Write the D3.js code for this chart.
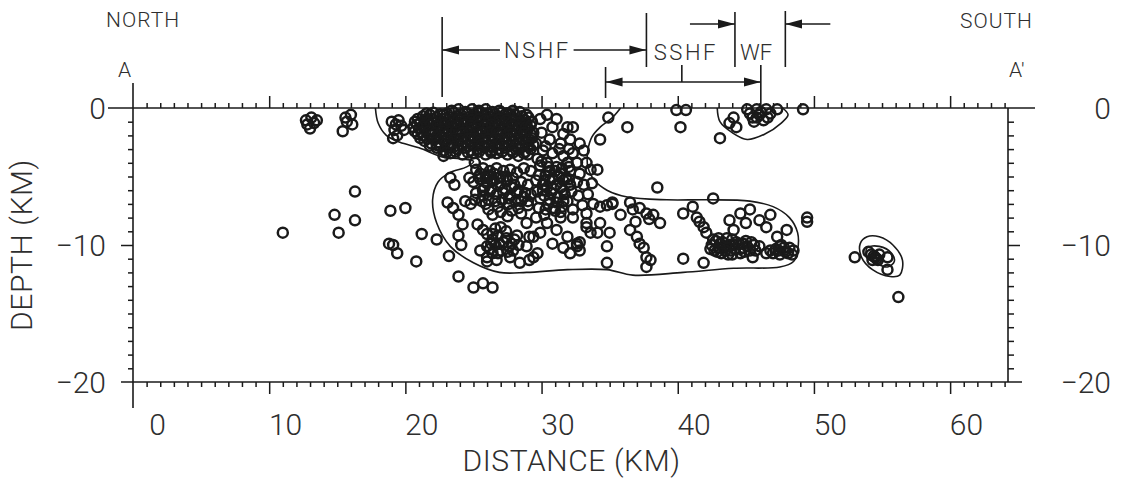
<!DOCTYPE html>
<html>
<head>
<meta charset="utf-8">
<script src="https://cdn.jsdelivr.net/npm/d3@7"></script>
<style>
    body { margin: 0; background: #fff; }
    text { font-family: Roboto, "Liberation Sans", sans-serif; font-weight: 300; fill: #2e2e2e; }
</style>
</head>
<body>
<svg width="1121" height="482"></svg>
<script>
// --------------- //
// DATA //
// --------------- //
// distance along profile (km), depth (km, negative down)
let westShallow = [
    [12.7, -0.9], [13.1, -0.7], [13.5, -0.9], [12.8, -1.2], [13.0, -1.5], [13.3, -1.1],
    [15.6, -0.7], [16.0, -0.5], [15.7, -1.0], [16.1, -1.2], [15.4, -1.7]
]
let bullseye = [
    [19.0, -1.0], [19.3, -1.2], [19.5, -0.9], [19.7, -1.3], [19.2, -1.6], [19.4, -2.0], [19.9, -1.6], [19.1, -2.2]
]
let westDeep = [
    [11.0, -9.1], [14.8, -7.8], [16.3, -8.2], [15.1, -9.1], [16.3, -6.1], [18.9, -7.5], [20.0, -7.3],
    [18.8, -9.9], [19.1, -10.0], [19.4, -10.6], [21.2, -9.2], [22.3, -9.6], [20.8, -11.2], [23.2, -10.8],
    [23.9, -12.3], [25.0, -13.1], [25.7, -12.8], [26.4, -13.1]
]
let nshfShallow = [
    [23.4, -0.2], [23.9, -0.1], [24.4, -0.3], [24.9, -0.1], [25.4, -0.2], [25.9, -0.1], [26.4, -0.3], [26.9, -0.2], [27.4, -0.4], [27.9, -0.2], [28.4, -0.3], [28.9, -0.5],
    [21.3, -0.6], [21.8, -0.5], [22.3, -0.7], [22.8, -0.5], [23.3, -0.7], [23.8, -0.6], [24.3, -0.8], [24.8, -0.6], [25.3, -0.7], [25.8, -0.5], [26.3, -0.7], [26.8, -0.6], [27.3, -0.8], [27.8, -0.7], [28.3, -0.9], [28.8, -0.9], [29.3, -1.0],
    [20.7, -1.0], [21.1, -1.1], [21.6, -0.9], [22.1, -1.1], [22.6, -1.0], [23.1, -1.2], [23.6, -1.0], [24.1, -1.1], [24.6, -1.0], [25.1, -1.2], [25.6, -1.0], [26.1, -1.1], [26.6, -1.0], [27.1, -1.2], [27.6, -1.1], [28.1, -1.3], [28.6, -1.2],
    [20.6, -1.4], [21.0, -1.5], [21.5, -1.4], [22.0, -1.6], [22.5, -1.4], [23.0, -1.5], [23.5, -1.4], [24.0, -1.6], [24.5, -1.5], [25.0, -1.4], [25.5, -1.6], [26.0, -1.5], [26.5, -1.4], [27.0, -1.6], [27.5, -1.5], [28.0, -1.6], [28.5, -1.7], [29.0, -1.5], [29.4, -1.8],
    [20.9, -1.9], [21.3, -2.0], [21.8, -1.9], [22.3, -2.1], [22.8, -1.9], [23.3, -2.0], [23.8, -1.9], [24.3, -2.1], [24.8, -2.0], [25.3, -1.9], [25.8, -2.1], [26.3, -2.0], [26.8, -1.9], [27.3, -2.1], [27.8, -2.0], [28.3, -2.1], [28.8, -2.0], [29.3, -2.2],
    [21.4, -2.4], [21.9, -2.6], [22.4, -2.5], [22.9, -2.4], [23.4, -2.6], [23.9, -2.4], [24.4, -2.5], [24.9, -2.4], [25.4, -2.6], [25.9, -2.5], [26.4, -2.4], [26.9, -2.6], [27.4, -2.5], [27.9, -2.4], [28.4, -2.6], [28.9, -2.5], [29.4, -2.7],
    [22.3, -2.9], [22.8, -3.1], [23.3, -2.9], [23.8, -3.0], [24.3, -2.9], [24.8, -3.1], [25.3, -3.0], [25.8, -2.9], [26.3, -3.1], [26.8, -3.0], [27.3, -2.9], [27.8, -3.1], [28.3, -3.0], [28.8, -3.2], [29.2, -3.0],
    [22.8, -3.5], [23.3, -3.3], [24.2, -3.4], [25.0, -3.3], [25.9, -3.4], [26.7, -3.3], [27.5, -3.4], [28.3, -3.5], [29.0, -3.4]
]
// second, interleaved layer of the dense shallow swarm
let nshfShallowB = [
    [21.55, -0.4], [22.05, -0.35], [22.55, -0.45], [23.05, -0.4], [23.55, -0.35], [24.05, -0.45], [24.55, -0.4], [25.05, -0.45], [25.55, -0.35], [26.05, -0.4], [26.55, -0.45], [27.05, -0.35], [27.55, -0.4], [28.05, -0.5], [28.55, -0.6], [29.05, -0.7],
    [20.9, -0.8], [21.4, -0.85], [21.9, -0.8], [22.4, -0.9], [22.9, -0.8], [23.4, -0.85], [23.9, -0.8], [24.4, -0.9], [24.9, -0.85], [25.4, -0.8], [25.9, -0.9], [26.4, -0.85], [26.9, -0.8], [27.4, -0.9], [27.9, -0.95], [28.4, -1.05], [28.9, -1.1],
    [20.85, -1.2], [21.35, -1.25], [21.85, -1.2], [22.35, -1.3], [22.85, -1.2], [23.35, -1.25], [23.85, -1.3], [24.35, -1.2], [24.85, -1.3], [25.35, -1.25], [25.85, -1.3], [26.35, -1.2], [26.85, -1.3], [27.35, -1.35], [27.85, -1.3], [28.35, -1.4], [28.85, -1.4], [29.2, -1.3],
    [20.7, -1.7], [21.2, -1.75], [21.7, -1.7], [22.2, -1.8], [22.7, -1.7], [23.2, -1.75], [23.7, -1.7], [24.2, -1.8], [24.7, -1.75], [25.2, -1.7], [25.7, -1.8], [26.2, -1.75], [26.7, -1.7], [27.2, -1.8], [27.7, -1.75], [28.2, -1.85], [28.7, -1.8], [29.2, -1.9],
    [21.1, -2.2], [21.6, -2.25], [22.1, -2.3], [22.6, -2.2], [23.1, -2.3], [23.6, -2.2], [24.1, -2.3], [24.6, -2.25], [25.1, -2.2], [25.6, -2.3], [26.1, -2.25], [26.6, -2.2], [27.1, -2.3], [27.6, -2.25], [28.1, -2.3], [28.6, -2.35], [29.1, -2.3],
    [21.8, -2.75], [22.3, -2.7], [22.6, -2.8], [23.1, -2.75], [23.6, -2.8], [24.1, -2.7], [24.6, -2.8], [25.1, -2.75], [25.6, -2.7], [26.1, -2.8], [26.6, -2.75], [27.1, -2.7], [27.6, -2.8], [28.1, -2.75], [28.6, -2.8], [29.0, -2.75],
    [23.0, -3.25], [23.7, -3.2], [24.6, -3.25], [25.4, -3.2], [26.3, -3.25], [27.1, -3.2], [27.9, -3.25], [28.7, -3.3]
]
let nshfEast = [
    [31.1, -0.8], [30.4, -0.5], [31.9, -1.4], [32.3, -1.4], [31.6, -1.9], [30.8, -1.4], [30.6, -2.3], [31.4, -2.6],
    [32.1, -2.3], [32.8, -2.6], [33.1, -3.1], [32.3, -3.3], [31.6, -3.5], [30.8, -3.3], [30.1, -3.1], [29.6, -2.6],
    [30.4, -4.0], [31.1, -4.3], [31.9, -4.0], [32.6, -4.0], [33.3, -4.0], [34.1, -4.5], [30.0, -1.8], [29.9, -0.8],
    [31.3, -3.0], [32.0, -3.0], [30.3, -2.8], [29.7, -3.7],
    [34.9, -0.7], [36.3, -1.4], [34.3, -2.3]
]
let centralShallow = [
    [39.9, -0.15], [40.6, -0.15], [40.2, -1.4],
    [45.1, -0.1], [45.8, -0.1], [46.5, -0.1], [47.3, -0.1], [46.0, -0.5], [45.5, -0.7], [46.3, -0.9], [46.8, -0.4],
    [44.1, -0.7], [43.8, -1.1], [44.3, -1.4], [45.3, -0.4], [49.2, -0.1], [43.1, -2.2], [45.8, -0.7], [46.1, -0.3],
    [45.6, -1.0], [46.6, -0.7]
]
let deepWest = [
    [25.1, -4.0], [23.3, -5.1], [23.6, -5.6], [24.7, -5.1], [23.1, -6.9], [23.5, -7.3], [23.9, -7.8], [24.2, -8.5],
    [23.9, -9.3], [24.1, -10.0], [25.3, -8.5], [25.5, -10.4], [26.0, -10.1], [26.4, -10.6], [26.0, -11.2], [26.1, -5.0],
    [25.7, -6.0], [25.7, -8.9], [26.0, -10.9], [26.7, -11.1], [27.7, -10.9], [28.4, -11.3], [29.1, -11.1], [29.7, -10.6],
    [29.4, -9.4], [28.9, -8.4],
    [26.0, -9.2], [26.4, -9.6], [26.8, -9.3], [27.2, -9.8], [27.6, -10.1], [28.0, -9.6], [26.6, -10.0], [27.0, -10.4],
    [27.4, -9.0], [26.2, -10.3], [27.9, -10.4], [28.3, -10.0], [27.0, -8.7], [26.6, -8.8],
    [24.4, -6.8], [24.8, -7.0], [25.1, -6.7]
]
let deepMid = [
    [25.2, -4.5], [25.7, -4.4], [26.2, -4.6], [26.7, -4.4], [27.2, -4.6], [27.7, -4.5], [28.2, -4.7], [28.7, -4.4], [29.2, -4.6], [29.9, -4.2], [30.6, -4.6], [31.4, -4.8], [32.1, -4.6], [32.8, -4.8], [33.6, -4.5],
    [25.0, -5.4], [25.5, -5.2], [26.0, -5.5], [26.5, -5.3], [27.0, -5.5], [27.5, -5.3], [28.0, -5.6], [28.5, -5.4], [29.0, -5.6], [29.6, -5.3], [30.1, -5.6], [30.6, -5.3], [31.1, -5.6], [31.6, -5.3], [32.1, -5.6], [32.6, -5.4], [33.1, -5.6], [33.7, -5.5],
    [25.2, -6.2], [25.7, -6.4], [26.2, -6.1], [26.7, -6.3], [27.2, -6.2], [27.7, -6.4], [28.2, -6.2], [28.7, -6.5], [29.2, -6.3], [29.7, -6.1], [30.2, -6.4], [30.7, -6.2], [31.2, -6.5], [31.7, -6.3], [32.2, -6.1], [32.7, -6.4], [33.4, -6.3],
    [25.9, -7.0], [26.8, -7.2], [27.6, -7.0], [28.3, -7.3], [29.0, -7.1], [29.8, -7.3], [30.5, -7.0], [31.0, -7.5], [31.5, -7.2], [32.3, -7.4], [33.0, -7.1],
    [26.4, -7.8], [27.5, -7.9], [28.5, -7.7], [29.6, -8.0], [30.2, -7.8]
]
// darker knots inside the deep swarms
let deepPatches = [
    [25.5, -4.8], [26.0, -4.9], [26.5, -4.8], [27.0, -5.0], [25.8, -5.8], [26.3, -5.9], [26.8, -5.7], [27.3, -5.9], [27.8, -5.8], [28.3, -6.0], [28.8, -6.2], [29.0, -6.8], [28.5, -6.8],
    [25.4, -5.0], [25.9, -5.1], [26.4, -5.2], [26.9, -5.1], [27.4, -5.0], [27.9, -5.1], [25.6, -6.8], [26.1, -6.7], [26.6, -6.8], [27.1, -6.7], [27.6, -6.6], [28.1, -6.8], [27.0, -7.6], [27.8, -7.5], [26.1, -7.4],
    [30.0, -3.9], [30.5, -4.3], [31.0, -4.6], [31.5, -4.4], [32.0, -4.3], [30.3, -4.9], [30.8, -5.1], [31.3, -5.0], [31.8, -5.1], [30.4, -5.8], [30.9, -5.9], [31.4, -5.8], [30.6, -6.7], [31.1, -6.9], [31.6, -6.8], [30.9, -7.3],
    [29.8, -4.9], [30.2, -5.3], [31.6, -6.0], [32.0, -5.2], [30.1, -6.0], [29.9, -6.6], [31.9, -6.8], [31.4, -7.6], [30.3, -7.4],
    [26.3, -9.9], [26.9, -9.9], [27.4, -9.5], [27.8, -9.9], [26.8, -10.6], [27.5, -10.5], [26.4, -9.2], [28.2, -9.3],
    [43.1, -9.9], [43.6, -10.1], [44.3, -9.8], [44.8, -9.9], [43.9, -10.4], [44.6, -10.3], [42.9, -10.5], [45.1, -10.1],
    [42.6, -9.6], [43.4, -10.2], [44.1, -10.0], [44.9, -10.5], [45.4, -9.8], [43.0, -9.5], [45.7, -10.4], [43.7, -10.7], [46.0, -10.1], [42.4, -10.3],
    [47.4, -10.4], [47.8, -10.2], [48.1, -10.6], [48.5, -10.4], [47.0, -10.6],
    [54.5, -10.9], [54.2, -10.7], [54.7, -11.1]
]
let deepCenter = [
    [30.4, -8.4], [31.1, -8.9], [31.9, -9.4], [32.6, -9.9], [33.3, -8.4], [32.3, -8.0], [31.4, -8.0], [30.8, -9.9],
    [31.6, -10.2], [32.1, -10.6], [32.8, -10.4], [29.9, -9.1], [29.1, -9.4], [28.9, -10.1], [29.4, -10.9], [33.3, -8.7],
    [33.6, -9.1], [32.8, -9.8], [32.6, -10.1], [34.1, -9.1], [34.3, -8.4], [33.8, -7.0], [34.3, -7.2], [34.8, -7.1],
    [35.2, -7.0], [33.3, -7.7], [34.8, -10.1], [34.8, -11.3], [35.0, -9.1]
]
let deepEast = [
    [35.8, -7.8], [36.5, -6.9], [36.7, -7.4], [37.2, -7.3], [37.7, -7.7], [38.2, -7.8], [38.7, -8.4], [36.5, -8.9],
    [37.0, -9.4], [37.2, -9.9], [37.5, -10.2], [37.7, -10.9], [38.0, -11.1], [37.7, -11.6], [38.5, -5.8], [40.4, -7.7],
    [41.1, -7.2], [41.4, -8.0], [41.6, -8.3], [41.9, -8.7], [42.1, -9.1], [42.6, -6.6], [40.4, -11.0], [41.9, -11.3],
    [35.2, -6.9], [37.9, -8.1], [36.9, -8.3]
]
let wfDeep = [
    [43.8, -8.2], [44.6, -7.7], [45.3, -7.4], [46.0, -8.2], [46.5, -8.7], [47.3, -9.4], [48.0, -8.9], [46.5, -10.6],
    [45.5, -10.9], [47.5, -10.1], [44.1, -8.9], [45.0, -8.4], [46.8, -7.8],
    [42.5, -10.0], [42.8, -9.7], [43.0, -10.2], [43.3, -9.8], [43.5, -10.4], [43.8, -10.0], [44.0, -9.6], [44.2, -10.3],
    [44.5, -9.9], [44.8, -10.2], [45.0, -9.7], [45.3, -10.4], [43.2, -10.6], [44.0, -10.7], [42.7, -10.4], [45.6, -10.0],
    [44.6, -10.6], [43.6, -9.5],
    [47.2, -10.3], [47.6, -10.0], [47.9, -10.5], [48.2, -10.2], [48.4, -10.7], [47.5, -10.7], [46.8, -10.4],
    [49.5, -8.0], [49.5, -8.3]
]
let southCluster = [
    [53.0, -10.9], [54.0, -10.5], [54.4, -10.8], [54.6, -11.0], [54.3, -11.1], [54.8, -10.7], [55.4, -10.9],
    [55.4, -11.8], [56.2, -13.8]
]

// contour outlines
let mainContour = [
    [17.8, 0], [18.0, -1.1], [18.6, -2.0], [19.6, -2.5], [21.0, -2.9], [22.8, -3.6], [24.0, -3.7], [25.0, -3.9],
    [24.5, -4.3], [23.3, -4.7], [22.4, -5.4], [22.0, -6.7], [22.3, -8.4], [23.3, -10.1], [25.0, -11.3], [26.9, -12.0],
    [28.9, -12.0], [31.9, -11.8], [34.8, -11.8], [36.7, -12.2], [40.4, -12.0], [44.1, -11.7], [47.5, -11.6],
    [48.5, -11.2], [48.8, -10.4], [48.8, -9.1], [48.2, -8.0], [47.0, -7.2], [45.3, -6.8], [42.1, -6.7], [39.2, -6.7],
    [36.3, -6.5], [34.8, -6.0], [33.9, -5.3], [33.4, -4.3], [33.4, -3.1], [33.7, -2.1], [34.3, -1.4], [35.2, -0.7], [35.8, 0]
]
let wfContour = [
    [42.9, 0], [43.1, -1.0], [44.0, -1.8], [45.1, -2.3], [46.4, -1.9], [47.6, -1.1], [48.1, -0.5], [47.7, 0]
]
let southOuter = [
    [53.4, -9.9], [53.9, -9.4], [54.8, -9.4], [55.8, -10.0], [56.5, -11.1], [56.3, -12.2], [55.6, -12.3], [54.3, -11.8], [53.5, -10.9]
]
let southInner = [
    [53.9, -10.2], [54.8, -10.1], [55.7, -10.6], [55.9, -11.2], [55.4, -11.6], [54.5, -11.3], [53.9, -10.9]
]

// fault zone markers (km along profile)
let faultKm = [22.7, 37.7, 44.2, 47.9]
let faultNames = ["NSHF", "SSHF", "WF"]
let sshfBracketKm = [34.7, 40.3, 46.1]

// axes
let xTickLabels = [0, 10, 20, 30, 40, 50, 60]
let yTickLabels = [0, -10, -20]
let xMax = 64.25

// --------------- //
// SCALES //
// --------------- //
let svg = d3.select("svg"),
    width = +svg.attr("width"),
    height = +svg.attr("height");

svg.append("rect").attr("width", width).attr("height", height).attr("fill", "#fff")

let x = d3.scaleLinear().domain([0, xMax]).range([133, 1008])
let y = d3.scaleLinear().domain([0, -20]).range([108, 382])

let ink = "#1a1a1a"

// --------------- //
// FRAME AND TICKS //
// --------------- //
let frame = svg.append("g").attr("stroke", ink).attr("stroke-width", 1.6)
frame.append("line").attr("x1", x(0) - 25).attr("x2", x(xMax) + 27).attr("y1", y(0)).attr("y2", y(0))
frame.append("line").attr("x1", x(0) - 12).attr("x2", x(xMax) + 14).attr("y1", y(-20)).attr("y2", y(-20))
frame.append("line").attr("x1", x(0)).attr("x2", x(0)).attr("y1", y(0) - 25).attr("y2", y(-20) + 26)
frame.append("line").attr("x1", x(xMax)).attr("x2", x(xMax)).attr("y1", y(0)).attr("y2", y(-20))

let minorX = d3.range(1, 65).filter(d => d % 10 !== 0)
let majorX = xTickLabels.filter(d => d > 0)
let minorY = d3.range(-1, -20, -1).filter(d => d !== -10)
let majorY = [-10]

let tickAxis = (axis, vals, size, tr) => {
    let g = svg.append("g")
        .attr("transform", tr)
        .call(axis.tickValues(vals).tickSize(size).tickSizeOuter(0).tickFormat(""))
    g.select(".domain").remove()
    g.selectAll("line").attr("stroke", ink).attr("stroke-width", 1.5)
}
tickAxis(d3.axisTop(x), minorX, 5, `translate(0,${y(0)})`)
tickAxis(d3.axisTop(x), majorX, 12, `translate(0,${y(0)})`)
tickAxis(d3.axisBottom(x), minorX, 5, `translate(0,${y(-20)})`)
tickAxis(d3.axisBottom(x), majorX, 12, `translate(0,${y(-20)})`)
tickAxis(d3.axisLeft(y), minorY, 5, `translate(${x(0)},0)`)
tickAxis(d3.axisLeft(y), majorY, 12, `translate(${x(0)},0)`)
tickAxis(d3.axisRight(y), minorY, 6, `translate(${x(xMax)},0)`)
tickAxis(d3.axisRight(y), majorY, 12, `translate(${x(xMax)},0)`)

let fmt = d => d < 0 ? "\u2212" + Math.abs(d) : String(d)

// x tick labels (right-aligned two digit field starting at the tick)
svg.append("g").selectAll("text")
    .data(xTickLabels)
    .enter().append("text")
    .attr("x", d => x(d) + 33)
    .attr("y", 435)
    .attr("text-anchor", "end")
    .style("font-size", "30px")
    .text(fmt)

svg.append("g").selectAll("text")
    .data(yTickLabels)
    .enter().append("text")
    .attr("x", x(0) - 27)
    .attr("y", d => y(d))
    .attr("dy", "0.36em")
    .attr("text-anchor", "end")
    .style("font-size", "30px")
    .text(fmt)

svg.append("g").selectAll("text")
    .data(yTickLabels)
    .enter().append("text")
    .attr("x", x(xMax) + 103)
    .attr("y", d => y(d))
    .attr("dy", "0.36em")
    .attr("text-anchor", "end")
    .style("font-size", "30px")
    .text(fmt)

svg.append("text")
    .attr("x", (x(0) + x(xMax)) / 2 + 1)
    .attr("y", 471)
    .attr("text-anchor", "middle")
    .style("font-size", "30px")
    .style("letter-spacing", "0.6px")
    .text("DISTANCE (KM)")

svg.append("text")
    .attr("transform", `translate(32,${(y(0) + y(-20)) / 2}) rotate(-90)`)
    .attr("text-anchor", "middle")
    .style("font-size", "30px")
    .style("letter-spacing", "0.6px")
    .text("DEPTH (KM)")

// --------------- //
// PROFILE ENDS //
// --------------- //
let small = "21px"
svg.append("text").attr("x", 106).attr("y", 27).style("font-size", small).style("letter-spacing", "1px").text("NORTH")
svg.append("text").attr("x", 960).attr("y", 28).style("font-size", small).style("letter-spacing", "1px").text("SOUTH")
svg.append("text").attr("x", x(0) - 2).attr("y", 77).attr("text-anchor", "end").style("font-size", small).text("A")
svg.append("text").attr("x", x(xMax) + 1).attr("y", 77).style("font-size", small).text("A\u2032")

// --------------- //
// FAULT MARKERS //
// --------------- //
svg.append("defs").append("marker")
    .attr("id", "head")
    .attr("viewBox", "0 0 17 10")
    .attr("refX", 17).attr("refY", 5)
    .attr("markerWidth", 17).attr("markerHeight", 10)
    .attr("markerUnits", "userSpaceOnUse")
    .attr("orient", "auto-start-reverse")
    .append("path")
    .attr("d", "M0,0.5 L17,5 L0,9.5 Z")
    .attr("fill", ink)

let marks = svg.append("g").attr("stroke", ink).attr("stroke-width", 1.6).attr("fill", "none")
let vline = (km, y1, y2) => marks.append("line").attr("x1", x(km)).attr("x2", x(km)).attr("y1", y1).attr("y2", y2)
let arrow = (x1, x2, yy, both) => {
    let l = marks.append("line").attr("x1", x1).attr("x2", x2).attr("y1", yy).attr("y2", yy)
        .attr("marker-end", "url(#head)")
    if (both) l.attr("marker-start", "url(#head)")
}

vline(faultKm[0], 17, 97)
vline(faultKm[1], 13, 67)
vline(faultKm[2], 12, 67)
vline(faultKm[3], 11, 67)

// NSHF label with arrows to both boundaries
let nshf = svg.append("text")
    .attr("x", (x(faultKm[0]) + x(faultKm[1])) / 2 - 7)
    .attr("y", 58)
    .attr("text-anchor", "middle")
    .style("font-size", "22px")
    .style("letter-spacing", "2.5px")
    .text(faultNames[0])
let nb = nshf.node().getBBox()
arrow(nb.x - 4, x(faultKm[0]), 50)
arrow(nb.x + nb.width + 3, x(faultKm[1]), 50)

svg.append("text")
    .attr("x", x(sshfBracketKm[1]) + 4)
    .attr("y", 60)
    .attr("text-anchor", "middle")
    .style("font-size", "22px")
    .style("letter-spacing", "2.5px")
    .text(faultNames[1])

svg.append("text")
    .attr("x", (x(faultKm[2]) + x(faultKm[3])) / 2 - 4)
    .attr("y", 60)
    .attr("text-anchor", "middle")
    .style("font-size", "22px")
    .text(faultNames[2])

// WF arrows pointing inward from outside
arrow(x(faultKm[2]) - 45, x(faultKm[2]), 24)
arrow(x(faultKm[3]) + 45, x(faultKm[3]), 24)

// SSHF extent bracket
vline(sshfBracketKm[0], 67, 98)
vline(sshfBracketKm[2], 65, y(0))
vline(sshfBracketKm[1], 65, 82)
arrow(x(sshfBracketKm[0]), x(sshfBracketKm[2]), 82, true)

// --------------- //
// CONTOURS //
// --------------- //
let open = d3.line().x(d => x(d[0])).y(d => y(d[1])).curve(d3.curveCatmullRom.alpha(0.5))
let closed = d3.line().x(d => x(d[0])).y(d => y(d[1])).curve(d3.curveCatmullRomClosed.alpha(0.5))

let contours = svg.append("g").attr("fill", "none").attr("stroke", ink).attr("stroke-width", 1.6)
contours.append("path").attr("d", open(mainContour))
contours.append("path").attr("d", open(wfContour))
contours.append("path").attr("d", closed(southOuter))
contours.append("path").attr("d", closed(southInner))

// --------------- //
// HYPOCENTERS //
// --------------- //
let quakes = [].concat(westShallow, bullseye, westDeep, nshfShallow, nshfShallowB, nshfEast, centralShallow,
    deepWest, deepMid, deepPatches, deepCenter, deepEast, wfDeep, southCluster)

svg.append("g")
    .selectAll("circle")
    .data(quakes)
    .enter()
    .append("circle")
    .attr("cx", d => x(d[0]))
    .attr("cy", d => y(d[1]))
    .attr("r", 5)
    .attr("fill", "none")
    .attr("stroke", ink)
    .attr("stroke-width", 2.5)
</script>
</body>
</html>
